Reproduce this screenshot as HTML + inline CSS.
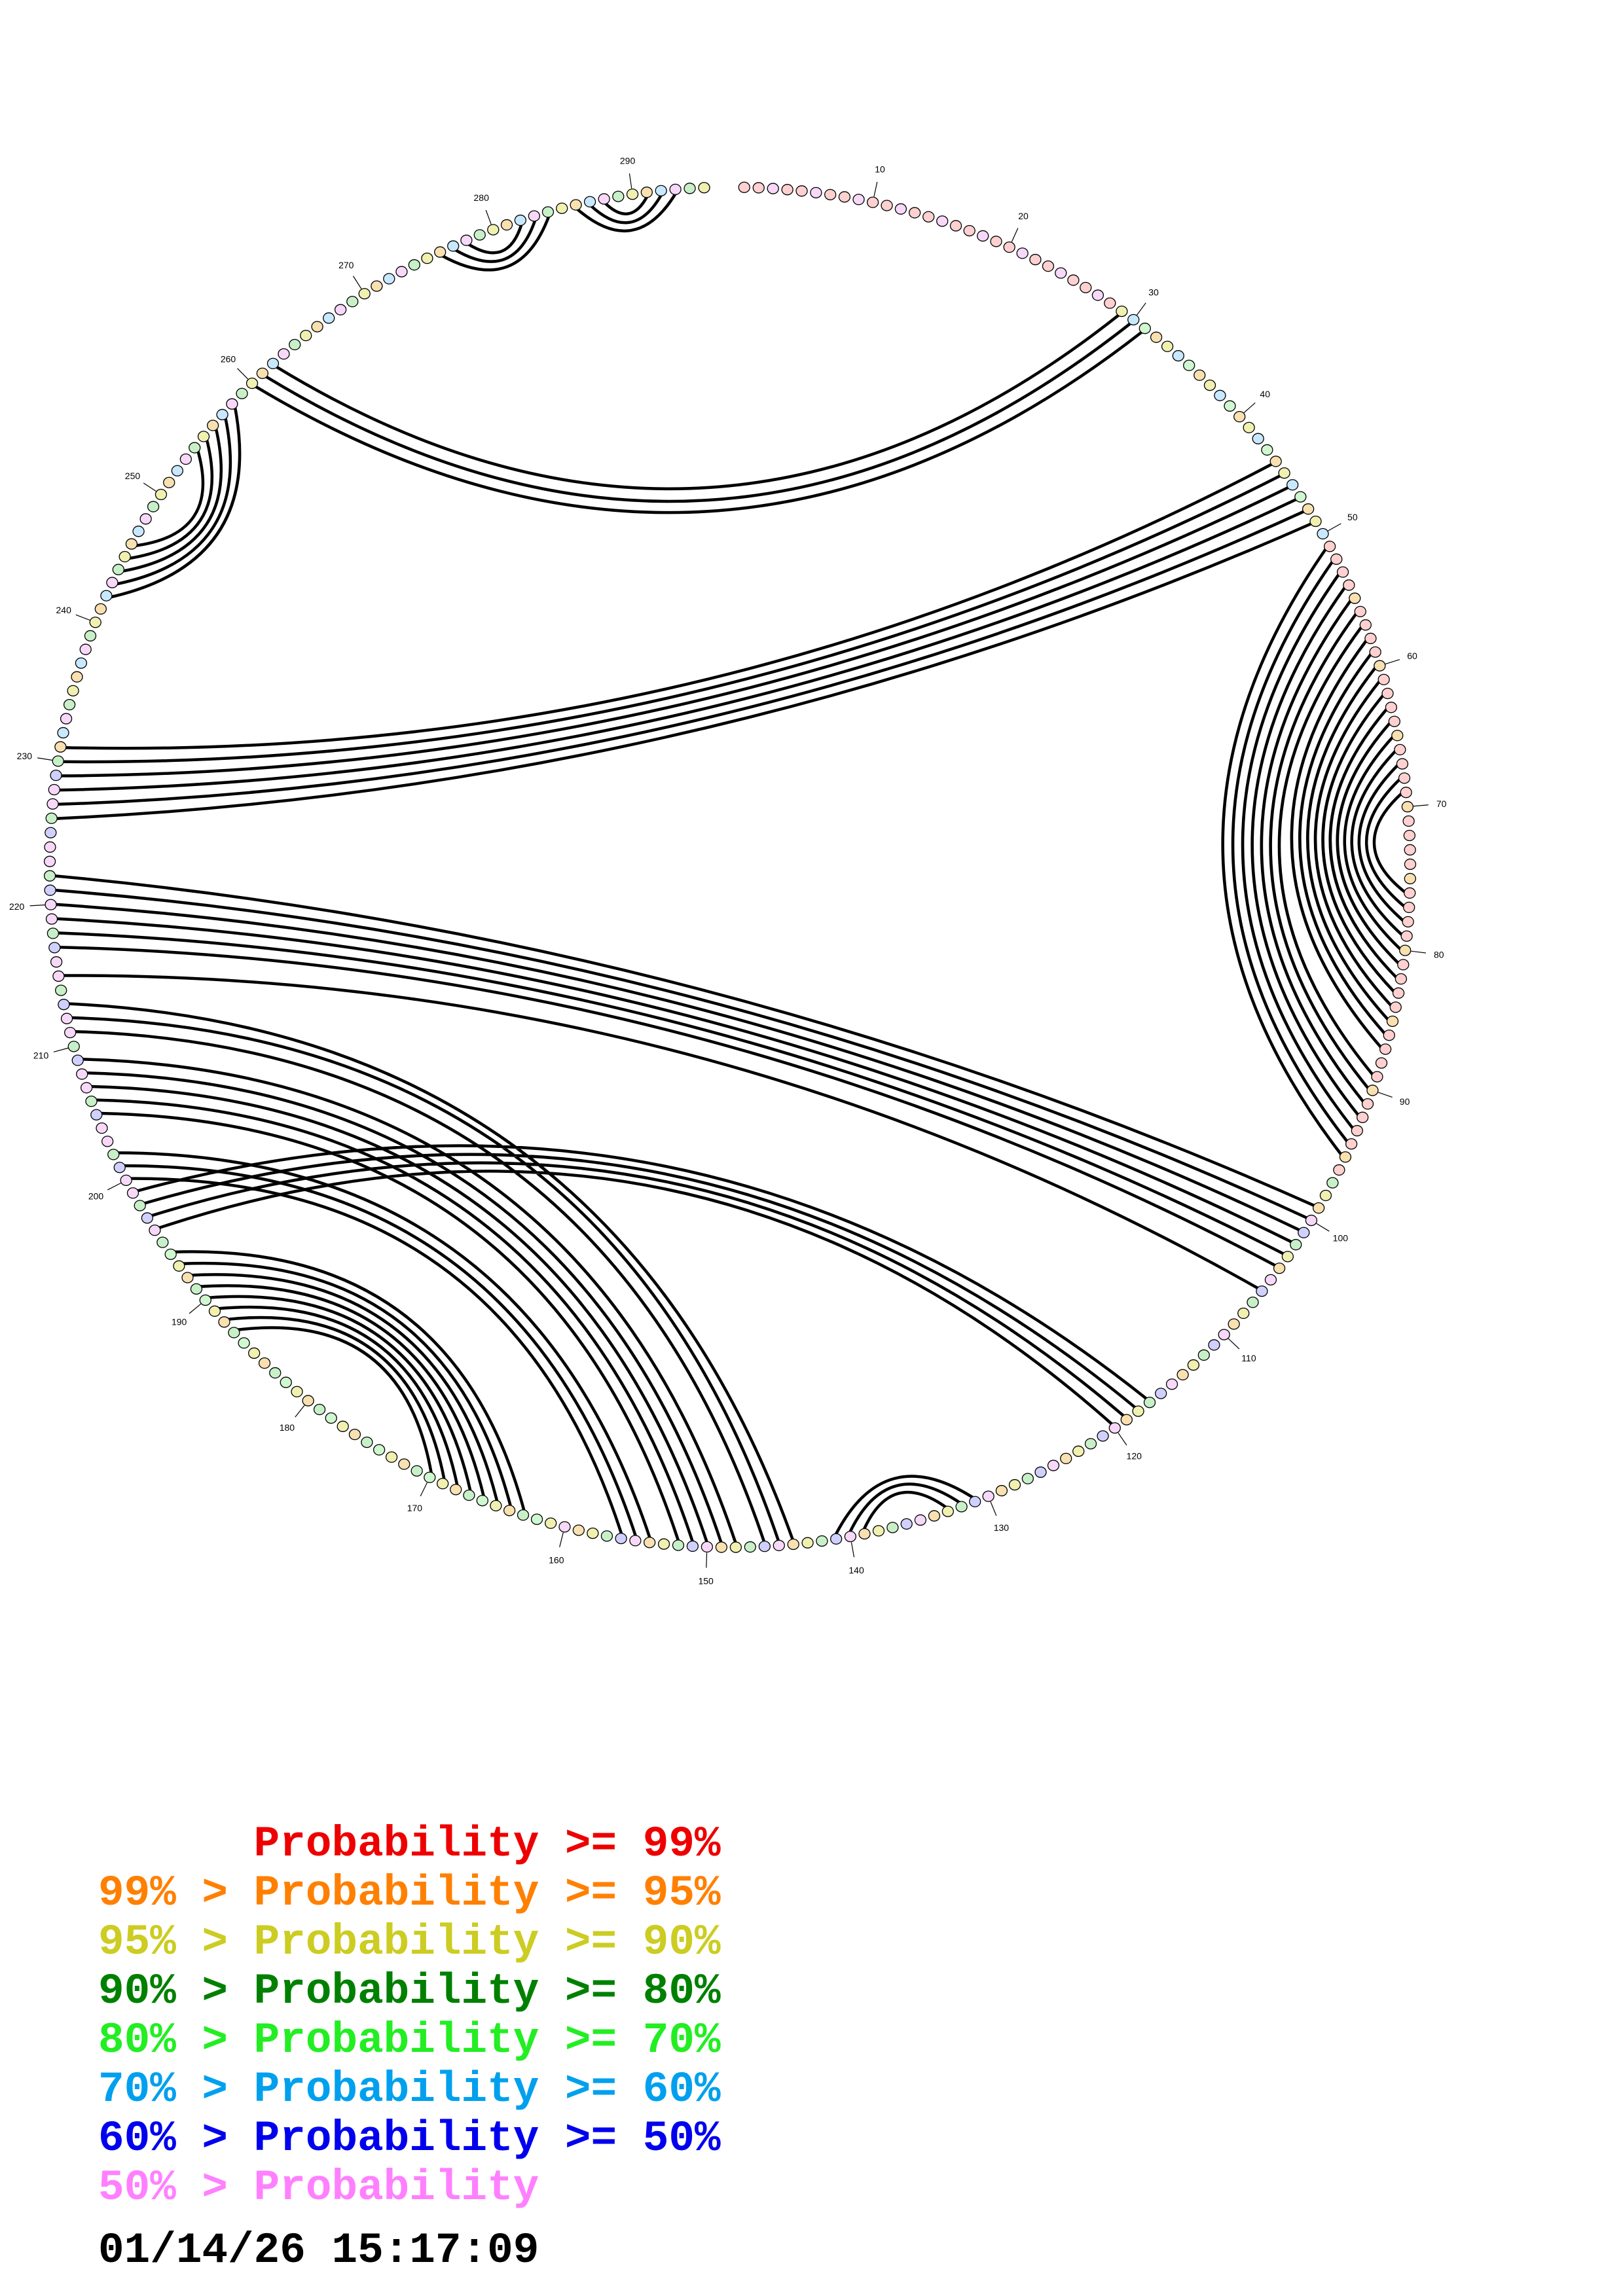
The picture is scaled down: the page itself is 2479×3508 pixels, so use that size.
<!DOCTYPE html>
<html><head><meta charset="utf-8"><style>
html,body{margin:0;padding:0;background:#fff;}
body{width:2479px;height:3508px;position:relative;overflow:hidden;}
svg{position:absolute;left:0;top:0;}
.lg{position:absolute;left:150px;font-family:"Liberation Mono",monospace;font-weight:bold;font-size:66px;white-space:pre;line-height:1;}
.num{font-family:"Liberation Sans",sans-serif;font-size:14px;fill:#000;}
</style></head><body>
<svg id="s" width="2479" height="3508" xmlns="http://www.w3.org/2000/svg">
<g id="arcs" fill="none" stroke="#000" stroke-width="4.5"></g>
<g id="marks"></g>
<g id="labs">
<text class="num" id="l10">10</text><text class="num" id="l20">20</text><text class="num" id="l30">30</text>
<text class="num" id="l40">40</text><text class="num" id="l50">50</text><text class="num" id="l60">60</text>
<text class="num" id="l70">70</text><text class="num" id="l80">80</text><text class="num" id="l90">90</text>
<text class="num" id="l100">100</text><text class="num" id="l110">110</text><text class="num" id="l120">120</text>
<text class="num" id="l130">130</text><text class="num" id="l140">140</text><text class="num" id="l150">150</text>
<text class="num" id="l160">160</text><text class="num" id="l170">170</text><text class="num" id="l180">180</text>
<text class="num" id="l190">190</text><text class="num" id="l200">200</text><text class="num" id="l210">210</text>
<text class="num" id="l220">220</text><text class="num" id="l230">230</text><text class="num" id="l240">240</text>
<text class="num" id="l250">250</text><text class="num" id="l260">260</text><text class="num" id="l270">270</text>
<text class="num" id="l280">280</text><text class="num" id="l290">290</text>
</g>
</svg>
<div class="lg" style="top:2785px;color:#ee0000">      Probability &gt;= 99%</div>
<div class="lg" style="top:2860px;color:#ff8000">99% &gt; Probability &gt;= 95%</div>
<div class="lg" style="top:2935px;color:#cccc22">95% &gt; Probability &gt;= 90%</div>
<div class="lg" style="top:3010px;color:#008000">90% &gt; Probability &gt;= 80%</div>
<div class="lg" style="top:3085px;color:#22ee22">80% &gt; Probability &gt;= 70%</div>
<div class="lg" style="top:3160px;color:#00a0ee">70% &gt; Probability &gt;= 60%</div>
<div class="lg" style="top:3235px;color:#0000ee">60% &gt; Probability &gt;= 50%</div>
<div class="lg" style="top:3310px;color:#ff80ff">50% &gt; Probability</div>
<div class="lg" style="top:3406px;color:#000">01/14/26 15:17:09</div>
<script>
var CX=1115,CY=1325,R=1039,N=295,NS="http://www.w3.org/2000/svg";
function ang(i){return (1.2+(i-1)*1.213)*Math.PI/180;}
function pt(i,r){var a=ang(i);r=r||R;return [CX+r*Math.sin(a),CY-r*Math.cos(a)];}
var pairs=[];
function grp(a,b,n){for(var k=0;k<n;k++)pairs.push([a+k,b-k]);}
grp(29,262,3);
grp(44,231,6);
grp(51,95,7);
grp(58,87,12);
pairs.push([99,222],[100,221],[101,220],[102,219],[103,218],[104,217],[106,215]);
[[117,199],[118,198],[119,197],[120,196]].forEach(function(p){pairs.push(p)});
grp(131,141,3);
var L=[213,212,211,209,208,207,206,205,202,201,200],B=[144,145,146,148,149,150,151,152,154,155,156];
for(var k=0;k<L.length;k++)pairs.push([B[k],L[k]]);
var L2=[194,193,192,191,190,189,188,187];for(k=0;k<8;k++)pairs.push([163+k,L2[k]]);
grp(242,258,5);
grp(276,284,3);
grp(286,293,3);
var g=document.getElementById("arcs"),d="";
pairs.forEach(function(p){
 var P=pt(p[0],R-6),Q=pt(p[1],R-6);
 var c=Math.hypot(Q[0]-P[0],Q[1]-P[1]);
 var M=[(P[0]+Q[0])/2,(P[1]+Q[1])/2];
 var dx=CX-M[0],dy=CY-M[1],dist=Math.hypot(dx,dy);
 var s=Math.min(c*(0.17+0.2*Math.exp(-c/340)),0.3*dist);
 var u=dist>0.001?[dx/dist,dy/dist]:[0,0];
 var C=[M[0]+2*s*u[0],M[1]+2*s*u[1]];
 d+="M"+P[0].toFixed(1)+" "+P[1].toFixed(1)+"Q"+C[0].toFixed(1)+" "+C[1].toFixed(1)+" "+Q[0].toFixed(1)+" "+Q[1].toFixed(1);
});
var path=document.createElementNS(NS,"path");path.setAttribute("d",d);g.appendChild(path);
var cols=["#ffd0d0","#f8e0b0","#f0f0b0","#c8f0c8","#d0f8d0","#c8e8ff","#d0d0ff","#f8d8f8"];
function colOf(i){
 if(i<=28)return i%3?cols[0]:cols[7];
 if(i<=50)return [cols[1],cols[2],cols[5],cols[4]][i%4];
 if(i<=96)return i%5==0?cols[1]:cols[0];
 if(i<=160)return [cols[7],cols[6],cols[3],cols[2],cols[1]][i%5];
 if(i<=195)return [cols[1],cols[2],cols[4],cols[3]][i%4];
 if(i<=230)return [cols[7],cols[6],cols[3],cols[7]][i%4];
 return [cols[2],cols[1],cols[5],cols[7],cols[3]][i%5];
}
var m=document.getElementById("marks");
for(var i=1;i<=N;i++){
 var q=pt(i),e=document.createElementNS(NS,"ellipse");
 e.setAttribute("cx",q[0]);e.setAttribute("cy",q[1]);e.setAttribute("rx",8.5);e.setAttribute("ry",8);
 e.setAttribute("fill",colOf(i));e.setAttribute("stroke","#000");e.setAttribute("stroke-width","1.3");
 m.appendChild(e);
 if(i%10==0){
  var a1=pt(i,R+9),a2=pt(i,R+32),ln=document.createElementNS(NS,"line");
  ln.setAttribute("x1",a1[0]);ln.setAttribute("y1",a1[1]);ln.setAttribute("x2",a2[0]);ln.setAttribute("y2",a2[1]);
  ln.setAttribute("stroke","#000");ln.setAttribute("stroke-width","1.2");m.appendChild(ln);
  var tp=pt(i,R+52),tx=document.getElementById("l"+i);
  if(tx){tx.setAttribute("x",tp[0]);tx.setAttribute("y",tp[1]+5);tx.setAttribute("text-anchor","middle");}
 }
}
</script>
</body></html>
